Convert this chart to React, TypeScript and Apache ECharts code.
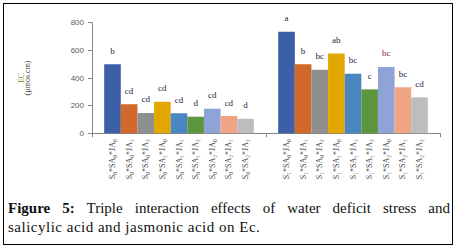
import React, { useEffect, useRef } from "react";
import * as echarts from "echarts";

const groups = ["S₀", "S₁"];
const treatments = ["SA₀*JA₀", "SA₀*JA₁", "SA₀*JA₂", "SA₁*JA₀", "SA₁*JA₁", "SA₁*JA₂", "SA₂*JA₀", "SA₂*JA₁", "SA₂*JA₂"];
const valuesS0 = [500, 210, 147, 228, 145, 120, 178, 125, 105];
const valuesS1 = [735, 500, 460, 578, 430, 318, 480, 333, 260];
const lettersS0 = ["b", "cd", "cd", "cd", "cd", "d", "cd", "cd", "d"];
const lettersS1 = ["a", "b", "bc", "ab", "bc", "c", "bc", "bc", "cd"];
const colors = ["#3C5FA8", "#D2692A", "#8F8F8F", "#E2A700", "#4A86C0", "#5E9640", "#8EA3D6", "#F0A486", "#BDBDBD"];
const yTicks = { min: 0, max: 800, interval: 200 };

export default function App() {
  const ref = useRef<HTMLDivElement>(null);
  useEffect(() => {
    document.body.style.margin = "0";
    if (!ref.current) return;
    const chart = echarts.init(ref.current, null, { renderer: "svg" });
    const series: any[] = [];
    treatments.forEach((t, i) => {
      series.push({
        type: "bar",
        stack: "g" + i,
        silent: true,
        data: [0, 0],
        itemStyle: { color: "transparent" },
        label: {
          show: true,
          position: "bottom",
          distance: 6,
          rotate: 90,
          align: "right",
          verticalAlign: "middle",
          fontFamily: "Liberation Serif",
          fontSize: 8,
          color: "#404040",
          formatter: (p: any) => groups[p.dataIndex] + "*" + t,
        },
      });
      series.push({
        type: "bar",
        stack: "g" + i,
        name: t,
        data: [
          { value: valuesS0[i], label: { formatter: lettersS0[i] } },
          { value: valuesS1[i], label: { formatter: lettersS1[i], color: i === 6 ? "#7A1F3D" : "#1C2446" } },
        ],
        itemStyle: { color: colors[i] },
        label: {
          show: true,
          position: "top",
          distance: 9,
          fontFamily: "Liberation Serif",
          fontSize: 9,
          color: "#1C2446",
        },
      });
    });
    chart.setOption({
      animation: false,
      grid: { left: 92, right: 17, top: 22.7, bottom: 114.7, containLabel: false },
      xAxis: {
        type: "category",
        data: groups,
        axisLine: { lineStyle: { color: "#868686" } },
        axisTick: { show: true, length: 4, lineStyle: { color: "#868686" } },
        axisLabel: { show: false },
      },
      yAxis: {
        type: "value",
        min: yTicks.min,
        max: yTicks.max,
        interval: yTicks.interval,
        name: "{a|EC}\n{b|(µmos.cm)}",
        nameLocation: "middle",
        nameGap: 62,
        nameRotate: 90,
        nameTextStyle: {
          rich: {
            a: { fontFamily: "Liberation Serif", fontSize: 8, color: "#8A8A3A", lineHeight: 6 },
            b: { fontFamily: "Liberation Serif", fontSize: 8, color: "#404040", lineHeight: 6 },
          },
        },
        axisLine: { show: true, lineStyle: { color: "#868686" } },
        axisTick: { show: true, length: 4, lineStyle: { color: "#868686" } },
        splitLine: { show: false },
        axisLabel: { fontFamily: "Liberation Sans", fontSize: 8, color: "#595959", margin: 8 },
      },
      series: series.map((s) => ({ ...s, barGap: "0%", barCategoryGap: "14%" })),
    });
    return () => chart.dispose();
  }, []);
  const captionStyle: React.CSSProperties = {
    position: "absolute",
    left: 8,
    width: 442,
    fontFamily: "Liberation Serif",
    fontSize: 15,
    lineHeight: "20px",
    letterSpacing: 0.5,
    color: "#111",
    whiteSpace: "nowrap",
  };
  return (
    <div style={{ position: "absolute", left: 0, top: 0, width: 457, height: 248, background: "#fff" }}>
      <div ref={ref} style={{ position: "absolute", left: 0, top: 0, width: 457, height: 248 }} />
      <div
        style={{
          position: "absolute",
          left: 3,
          top: 3,
          width: 448,
          height: 240,
          border: "1.5px solid #000",
          pointerEvents: "none",
        }}
      />
      <div style={{ ...captionStyle, top: 198, whiteSpace: "normal", textAlign: "justify", textAlignLast: "justify", letterSpacing: 0 }}>
        <b>Figure 5:</b> Triple interaction effects of water deficit stress and
      </div>
      <div style={{ ...captionStyle, top: 217 }}>salicylic acid and jasmonic acid on Ec.</div>
    </div>
  );
}
